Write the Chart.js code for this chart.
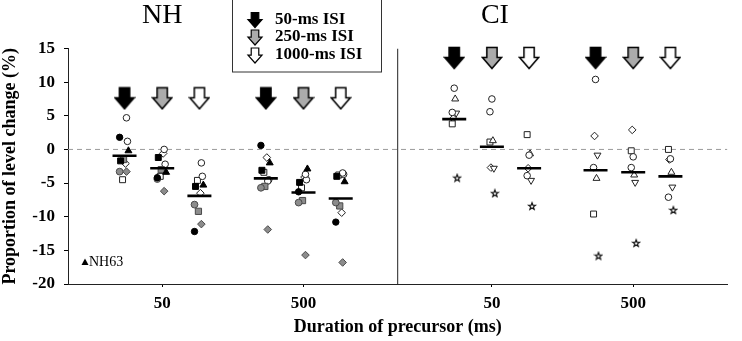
<!DOCTYPE html>
<html><head><meta charset="utf-8">
<script src="https://cdn.jsdelivr.net/npm/chart.js@4/dist/chart.umd.min.js"></script>
<style>html,body{margin:0;padding:0;background:#fff}#wrap{width:742px;height:341px}</style>
</head><body><div id="wrap"><canvas id="c" width="742" height="341"></canvas></div>
<script>
// ---------- DATA ----------
const panelNames = ['NH', 'CI'];
const precursorTicks = ['50', '500', '50', '500'];
const isiNames = ['50-ms ISI', '250-ms ISI', '1000-ms ISI'];
// condition order: precursor 50 ms (ISI 50, 250, 1000), precursor 500 ms (ISI 50, 250, 1000)
const nhBlackCircle = [ 1.8, -4.2, -12.2,   0.6,  -6.3, -10.8];
const nhBlackSquare = [-1.7, -1.2,  -5.5,  -3.1,  -4.9,  -4.0];
const nhBlackTri    = [-0.2, -3.4,  -5.3,  -2.0,  -2.9,  -4.8]; // NH63
const nhGreyCircle  = [-3.3, -4.4,  -8.2,  -5.7,  -7.9,  -7.9];
const nhGreySquare  = [-1.5, -3.0,  -9.2,  -5.5,  -7.6,  -8.4];
const nhGreyDiamond = [-3.3, -6.2, -11.1, -11.9, -15.7, -16.8];
const nhOpenCircleA = [ 4.7,  0.0,  -2.0,  -4.7,  -3.7,  -3.5];
const nhOpenCircleB = [ 1.2, -2.2,  -4.0,  -4.5,  -4.5,  -3.7];
const nhOpenSquare  = [-4.5, -4.0,  -4.6,  -3.4,  -5.7,  -3.8];
const nhOpenDiamond = [-2.1, -0.6,  -6.5,  -1.2,  -4.1,  -9.4];
const nhMeans       = [-0.95, -2.8, -6.9,  -4.3,  -6.4,  -7.3];

const ciCircleA  = [ 9.1,  7.5, -0.85, 10.4,  -1.1, -1.4];
const ciCircleB  = [ 5.5,  5.6, -3.9,  -2.7,  -2.7, -7.1];
const ciTriangle = [ 7.5,  1.3, -0.65, -4.3,  -3.8, -3.4];
const ciInvTri   = [ 5.4, -2.8, -4.6,  -0.85, -4.9, -5.6];
const ciSquare   = [ 3.8,  1.1,  2.2,  -9.6,  -0.2,  0.0];
const ciDiamond  = [ 4.6, -2.7, -2.8,   2.0,   2.9, -1.5];
const ciStar     = [-4.2, -6.5, -8.4, -15.8, -13.9, -9.0];
const ciMeans    = [ 4.5,  0.4, -2.8,  -3.1,  -3.4, -4.0];

// ---------- LAYOUT ----------
const X_MIN = 0, X_MAX = 14, DIVIDER_X = 7;
const panelCenters = [[2, 5], [9, 12]];
const isiOffsets = [-0.8, 0, 0.79];
const arrowLevel = [7.6, 13.6];
const PX = 674 / 14;
function condX(panel, c, jitPx) {
  return panelCenters[panel][Math.floor(c / 3)] + isiOffsets[c % 3] + (jitPx || 0) / PX;
}
const SERIF = '"Liberation Serif", "Times New Roman", serif';

// ---------- MARKER IMAGES ----------
function arrowPath(ctx, cx, top, w, h) {
  const sw = w * 0.27, sh = h * 0.48;
  ctx.beginPath();
  ctx.moveTo(cx - sw, top); ctx.lineTo(cx + sw, top); ctx.lineTo(cx + sw, top + sh);
  ctx.lineTo(cx + w / 2, top + sh); ctx.lineTo(cx, top + h); ctx.lineTo(cx - w / 2, top + sh);
  ctx.lineTo(cx - sw, top + sh); ctx.closePath();
}
const arrowFills = ['#000000', '#ababab', '#ffffff'];
function arrowImage(fill) {
  const w = 19, h = 21, c = document.createElement('canvas');
  c.width = w + 3; c.height = h + 3;
  const ctx = c.getContext('2d');
  arrowPath(ctx, c.width / 2, 1.5, w, h);
  ctx.fillStyle = fill; ctx.fill();
  ctx.lineWidth = 1.5; ctx.strokeStyle = '#000'; ctx.lineJoin = 'miter'; ctx.stroke();
  return c;
}
function starImage() {
  const c = document.createElement('canvas'); c.width = 10; c.height = 10;
  const ctx = c.getContext('2d');
  ctx.beginPath();
  for (let i = 0; i < 10; i++) {
    const r = i % 2 ? 1.5 : 3.6, a = -Math.PI / 2 + i * Math.PI / 5;
    const x = 5 + r * Math.cos(a), y = 5.4 + r * Math.sin(a);
    i ? ctx.lineTo(x, y) : ctx.moveTo(x, y);
  }
  ctx.closePath(); ctx.fillStyle = '#fff'; ctx.fill();
  ctx.lineWidth = 1.2; ctx.strokeStyle = '#111'; ctx.stroke();
  return c;
}

const BLACK = {f: '#000', s: '#000'}, GREY = {f: '#8c8c8c', s: '#4a4a4a'}, OPEN = {f: '#fff', s: '#222'};
const nhSubjects = [
  [nhBlackCircle, 'circle', BLACK, 3.2, -5],
  [nhBlackSquare, 'rect', BLACK, 4.2, -4],
  [nhBlackTri, 'triangle', BLACK, 4, 4],
  [nhGreyCircle, 'circle', GREY, 3.4, -5],
  [nhGreySquare, 'rect', GREY, 4.4, -1],
  [nhGreyDiamond, 'rectRot', GREY, 3.8, 2],
  [nhOpenCircleA, 'circle', OPEN, 3.3, 2],
  [nhOpenCircleB, 'circle', OPEN, 3.3, 3],
  [nhOpenSquare, 'rect', OPEN, 4.2, -2],
  [nhOpenDiamond, 'rectRot', OPEN, 3.8, 1]
];
const ciSubjects = [
  [ciCircleA, 'circle', OPEN, 3.3, 0, 0],
  [ciCircleB, 'circle', OPEN, 3.3, -2, 0],
  [ciTriangle, 'triangle', OPEN, 4, 1, 0],
  [ciInvTri, 'triangle', OPEN, 4, 2, 180],
  [ciSquare, 'rect', OPEN, 4.2, -2, 0],
  [ciDiamond, 'rectRot', OPEN, 3.8, -1, 0],
  [ciStar, 'star5', OPEN, 4, 3, 0]
];

const datasets = [];
// means
[nhMeans, ciMeans].forEach((m, p) => datasets.push({
  type: 'scatter', label: panelNames[p] + ' mean',
  data: m.map((v, c) => ({x: condX(p, c), y: v})),
  pointStyle: 'line', pointRadius: 12, pointHoverRadius: 12,
  borderColor: '#000', backgroundColor: '#000', borderWidth: 2.6, pointBorderWidth: 2.6
}));
const star = starImage();
[[nhSubjects, 0], [ciSubjects, 1]].forEach(([subs, p]) => subs.forEach(s => {
  const [vals, style, col, r, jit, rot] = s;
  datasets.push({
    type: 'scatter', label: panelNames[p],
    data: vals.map((v, c) => ({x: condX(p, c, jit), y: v})),
    pointStyle: style === 'star5' ? star : style, pointRadius: r, pointHoverRadius: r,
    pointRotation: rot || 0,
    backgroundColor: col.f, borderColor: col.s, borderWidth: 1
  });
}));
// arrows
arrowFills.forEach((f, i) => {
  const pts = [];
  [0, 1].forEach(p => [0, 1].forEach(g => pts.push({x: condX(p, g * 3 + i), y: arrowLevel[p]})));
  datasets.push({type: 'scatter', label: isiNames[i], data: pts, pointStyle: arrowImage(f), clip: false});
});
// reference lines
datasets.push({type: 'line', label: 'zero', data: [{x: X_MIN, y: 0}, {x: X_MAX, y: 0}],
  borderColor: '#9a9a9a', borderWidth: 1, borderDash: [5, 4], pointRadius: 0, fill: false});
datasets.push({type: 'line', label: 'divider', data: [{x: DIVIDER_X, y: -20}, {x: DIVIDER_X, y: 15}],
  borderColor: '#222', borderWidth: 1, pointRadius: 0, fill: false});

const decor = {
  id: 'decor',
  afterDraw(chart) {
    const ctx = chart.ctx, xs = chart.scales.x;
    ctx.save();
    // panel titles
    ctx.fillStyle = '#000';
    ctx.font = '28px ' + SERIF; ctx.textAlign = 'center'; ctx.textBaseline = 'alphabetic';
    ctx.fillText(panelNames[0], xs.getPixelForValue(panelCenters[0][0]), 23);
    ctx.fillText(panelNames[1], xs.getPixelForValue(panelCenters[1][0]) + 3, 23);
    // legend box
    ctx.fillStyle = '#fff'; ctx.fillRect(232, -2, 149.5, 74);
    ctx.strokeStyle = '#333'; ctx.lineWidth = 1; ctx.strokeRect(232.5, -2, 149, 74);
    ctx.font = 'bold 17px ' + SERIF; ctx.textAlign = 'left'; ctx.textBaseline = 'middle';
    const rows = [19.5, 37, 55];
    isiNames.forEach((n, i) => {
      arrowPath(ctx, 255, rows[i] - 7, 14, 15);
      ctx.fillStyle = arrowFills[i]; ctx.fill();
      ctx.lineWidth = 1.2; ctx.strokeStyle = '#000'; ctx.stroke();
      ctx.fillStyle = '#000'; ctx.fillText(n, 275, rows[i]);
    });
    // NH63 marker
    ctx.beginPath(); ctx.moveTo(85, 258.5); ctx.lineTo(88.5, 265); ctx.lineTo(81.5, 265); ctx.closePath();
    ctx.fillStyle = '#000'; ctx.fill();
    ctx.font = '14px ' + SERIF; ctx.textBaseline = 'middle'; ctx.fillText('NH63', 89, 262.5);
    ctx.restore();
  }
};

new Chart(document.getElementById('c'), {
  type: 'scatter',
  data: {datasets},
  options: {
    responsive: false, animation: false, devicePixelRatio: 1,
    layout: {padding: {top: 48.5, left: 0, right: 0, bottom: 0}},
    plugins: {legend: {display: false}, tooltip: {enabled: false}},
    events: [],
    scales: {
      x: {
        type: 'linear', min: X_MIN, max: X_MAX,
        afterBuildTicks: a => { a.ticks = [2, 5, 9, 12].map(v => ({value: v})); },
        afterFit: s => { s.height = 57; },
        ticks: {autoSkip: false, maxRotation: 0, padding: 6, color: '#000',
          font: {family: SERIF, size: 17, weight: 'bold'},
          callback: (v, i) => precursorTicks[i]},
        grid: {drawOnChartArea: false, drawTicks: true, tickLength: 3, color: '#000'},
        border: {color: '#222', width: 1},
        title: {display: true, text: 'Duration of precursor (ms)', color: '#000',
          font: {family: SERIF, size: 18, weight: 'bold'}, padding: {top: 0, bottom: 3}}
      },
      y: {
        min: -20, max: 15,
        afterFit: s => { s.width = 68; },
        ticks: {stepSize: 5, padding: 9, color: '#000', font: {family: SERIF, size: 17, weight: 'bold'}},
        grid: {drawOnChartArea: false, drawTicks: true, tickLength: 4, color: '#000'},
        border: {color: '#222', width: 1},
        title: {display: true, text: 'Proportion of level change (%)', color: '#000',
          font: {family: SERIF, size: 18, weight: 'bold'}, padding: {top: 0, bottom: 0}}
      }
    }
  },
  plugins: [decor]
});
</script></body></html>
